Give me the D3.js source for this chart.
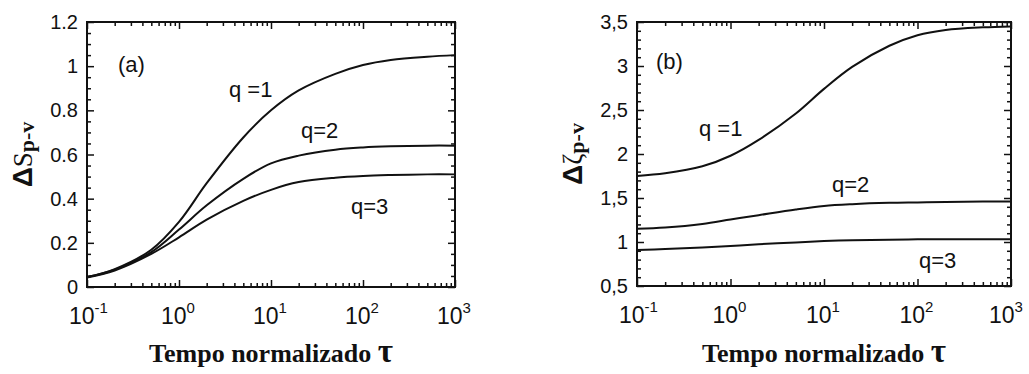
<!DOCTYPE html>
<html><head><meta charset="utf-8">
<script src="https://cdn.jsdelivr.net/npm/d3@7"></script>
<style>
body{margin:0;background:#fff;}
svg{display:block;}
text{fill:#111;}
</style></head>
<body>
<svg id="c" width="1029" height="374"></svg>
<script>
// ---- data ----
const tau = [0.1, 0.2, 0.5, 1, 2, 5, 10, 20, 50, 100, 200, 500, 1000];
const seriesLabels = ["q =1", "q=2", "q=3"];
// panel (a): ΔS p-v
const sA_q1 = [0.045, 0.081, 0.169, 0.295, 0.47, 0.677, 0.80, 0.89, 0.965, 1.005, 1.028, 1.043, 1.05];
const sA_q2 = [0.045, 0.078, 0.158, 0.26, 0.37, 0.49, 0.56, 0.595, 0.622, 0.632, 0.637, 0.64, 0.64];
const sA_q3 = [0.043, 0.075, 0.15, 0.225, 0.305, 0.39, 0.44, 0.475, 0.495, 0.503, 0.507, 0.51, 0.51];
// panel (b): Δζ p-v
const sB_q1 = [1.75, 1.78, 1.86, 1.98, 2.16, 2.46, 2.74, 2.99, 3.23, 3.35, 3.41, 3.44, 3.45];
const sB_q2 = [1.15, 1.165, 1.205, 1.255, 1.305, 1.37, 1.41, 1.43, 1.445, 1.45, 1.455, 1.46, 1.46];
const sB_q3 = [0.91, 0.92, 0.937, 0.955, 0.975, 0.995, 1.01, 1.02, 1.025, 1.03, 1.03, 1.03, 1.03];
// tick labels
const xTickExps = [-1, 0, 1, 2, 3];
const yTicksA = [0, 0.2, 0.4, 0.6, 0.8, 1, 1.2];
const yLabelsA = ["0", "0.2", "0.4", "0.6", "0.8", "1", "1.2"];
const yTicksB = [0.5, 1, 1.5, 2, 2.5, 3, 3.5];
const yLabelsB = ["0,5", "1", "1,5", "2", "2,5", "3", "3,5"];
const xTitle = "Tempo normalizado ";

const svg = d3.select("#c");

function panel(cfg){
  const x = d3.scaleLog().domain([0.1, 1000]).range([cfg.x0, cfg.x1]);
  const y = d3.scaleLinear().domain(cfg.ydom).range([cfg.y1, cfg.y0]);
  const g = svg.append("g");
  const W = cfg.x1 - cfg.x0, H = cfg.y1 - cfg.y0;

  const majorX = xTickExps.map(e => Math.pow(10, e));
  const minorX = [];
  for (let e = -1; e < 3; e++) for (let m = 2; m <= 9; m++) minorX.push(m * Math.pow(10, e));
  const majorY = cfg.yticks;
  const minorY = d3.range(cfg.ydom[0], cfg.ydom[1] + 1e-9, cfg.minorStep)
    .filter(v => !majorY.some(t => Math.abs(t - v) < 1e-6));

  function axisG(axis, tr){
    const a = g.append("g").attr("transform", tr).call(axis);
    a.select(".domain").remove();
    a.selectAll("line").attr("stroke", "#111").attr("stroke-width", 1.5);
    a.selectAll("text").remove();
  }
  const M = 7, m = 4;
  axisG(d3.axisBottom(x).tickValues(majorX).tickSize(-M), `translate(0,${cfg.y1})`);
  axisG(d3.axisBottom(x).tickValues(minorX).tickSize(-m), `translate(0,${cfg.y1})`);
  axisG(d3.axisTop(x).tickValues(majorX).tickSize(-M), `translate(0,${cfg.y0})`);
  axisG(d3.axisTop(x).tickValues(minorX).tickSize(-m), `translate(0,${cfg.y0})`);
  axisG(d3.axisLeft(y).tickValues(majorY).tickSize(-M), `translate(${cfg.x0},0)`);
  axisG(d3.axisLeft(y).tickValues(minorY).tickSize(-m), `translate(${cfg.x0},0)`);
  axisG(d3.axisRight(y).tickValues(majorY).tickSize(-M), `translate(${cfg.x1},0)`);
  axisG(d3.axisRight(y).tickValues(minorY).tickSize(-m), `translate(${cfg.x1},0)`);

  g.append("rect").attr("x", cfg.x0).attr("y", cfg.y0).attr("width", W).attr("height", H)
    .attr("fill", "none").attr("stroke", "#111").attr("stroke-width", 2);

  // y tick labels
  g.selectAll(".yl").data(majorY).enter().append("text")
    .attr("x", cfg.x0 - 9).attr("y", d => y(d) + 7)
    .attr("text-anchor", "end").attr("font-family", "Liberation Sans, Arial, sans-serif")
    .attr("font-size", 20).text((d, i) => cfg.ylabels[i]);

  // x tick labels 10^e
  xTickExps.forEach(e => {
    let lx = x(Math.pow(10, e)) - 18;
    if (lx + 38 > 1027) lx = 1027 - 38;
    const t = g.append("text").attr("x", lx).attr("y", cfg.y1 + 37)
      .attr("font-family", "Liberation Sans, Arial, sans-serif").attr("font-size", 23);
    t.append("tspan").text("10");
    t.append("tspan").attr("dy", -11).attr("font-size", 15).text(e < 0 ? "-" + Math.abs(e) : String(e));
  });

  // curves
  const line = d3.line().x(d => x(d[0])).y(d => y(d[1])).curve(d3.curveCatmullRom.alpha(0.5));
  cfg.series.forEach(s => {
    g.append("path").datum(tau.map((t, i) => [t, s[i]]))
      .attr("d", line).attr("fill", "none").attr("stroke", "#111").attr("stroke-width", 2);
  });

  // panel letter
  g.append("text").attr("x", cfg.letterPos[0]).attr("y", cfg.letterPos[1])
    .attr("font-family", "Liberation Sans, Arial, sans-serif").attr("font-size", 22).text(cfg.letter);
  // series labels
  cfg.labelPos.forEach((p, i) => {
    g.append("text").attr("x", p[0]).attr("y", p[1])
      .attr("font-family", "Liberation Sans, Arial, sans-serif").attr("font-size", 22).text(seriesLabels[i]);
  });

  // x title
  const xt = g.append("text").attr("x", (cfg.x0 + cfg.x1) / 2).attr("y", 362)
    .attr("text-anchor", "middle").attr("font-family", "Liberation Serif, Times New Roman, serif")
    .attr("font-weight", "bold").attr("font-size", 26);
  xt.append("tspan").text(xTitle);
  xt.append("tspan").attr("font-size", 33).text("τ");

  // y title
  const cy = (cfg.y0 + cfg.y1) / 2;
  const yt = g.append("text").attr("transform", `translate(${cfg.ytX},${cy}) rotate(-90)`)
    .attr("text-anchor", "middle").attr("font-weight", "bold");
  yt.append("tspan").attr("font-family", "Liberation Sans, Arial, sans-serif").attr("font-size", 28).text("Δ");
  yt.append("tspan").attr("font-family", "Liberation Serif, Times New Roman, serif").attr("font-size", 27).attr("font-weight", "normal").text(cfg.ysym);
  yt.append("tspan").attr("font-family", "Liberation Serif, Times New Roman, serif").attr("font-size", 22).attr("dy", 2).text("p-v");
}

panel({x0: 87, x1: 455, y0: 22, y1: 287, ydom: [0, 1.2], yticks: yTicksA, ylabels: yLabelsA, minorStep: 0.05,
  series: [sA_q1, sA_q2, sA_q3], letter: "(a)", letterPos: [118, 72],
  labelPos: [[229, 97], [301, 138], [351, 214]], ytX: 32, ysym: "S"});
panel({x0: 637, x1: 1011, y0: 22, y1: 286, ydom: [0.5, 3.5], yticks: yTicksB, ylabels: yLabelsB, minorStep: 0.1,
  series: [sB_q1, sB_q2, sB_q3], letter: "(b)", letterPos: [656, 69],
  labelPos: [[699, 136], [832, 192], [919, 268]], ytX: 582, ysym: "ζ"});
</script>
</body></html>
